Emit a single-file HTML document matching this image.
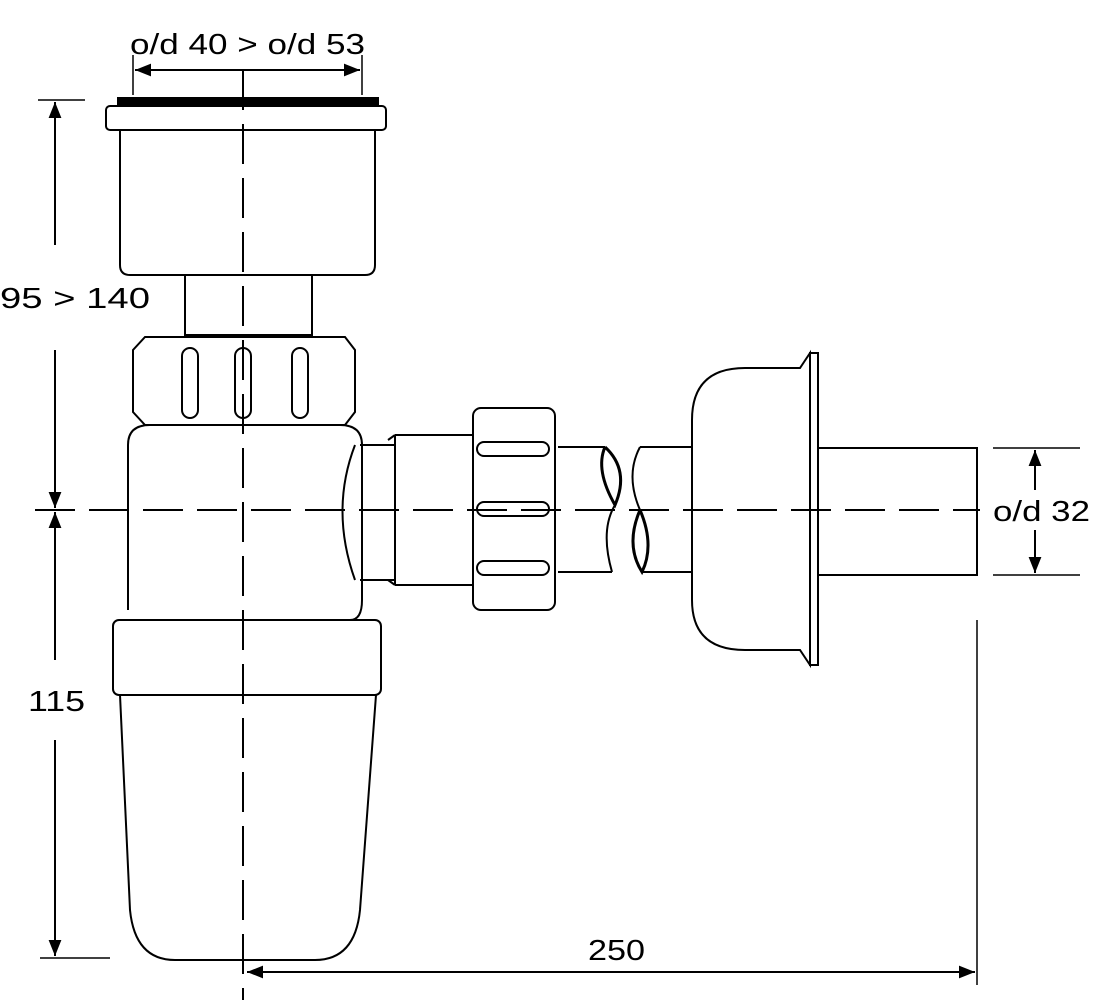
<!DOCTYPE html>
<html><head><style>body{margin:0;background:#fff}svg{display:block}</style></head><body>
<svg width="1107" height="1000" viewBox="0 0 1107 1000" xmlns="http://www.w3.org/2000/svg" font-family="Liberation Sans, sans-serif">
<defs><marker id="a" viewBox="0 0 10 10" refX="10" refY="5" markerWidth="10" markerHeight="8" orient="auto-start-reverse"><path d="M0,1 L10,5 L0,9z" fill="#000"/></marker></defs>
<g fill="none" stroke="#000" stroke-width="2">
<text x="130" y="54" font-size="29" textLength="235" lengthAdjust="spacingAndGlyphs" fill="#000" stroke="none">o/d 40 &gt; o/d 53</text>
<line x1="133" y1="55" x2="133" y2="95" stroke-width="1.5"/><line x1="362" y1="55" x2="362" y2="95" stroke-width="1.5"/>
<line x1="135" y1="70" x2="360" y2="70" marker-start="url(#a)" marker-end="url(#a)"/>
<rect x="118" y="98" width="260" height="8" fill="#000"/>
<rect x="106" y="106" width="280" height="24" rx="4"/>
<path d="M120,130 V265 Q120,275 130,275 H365 Q375,275 375,265 V130"/>
<rect x="185" y="275" width="127" height="60"/>
<path d="M145,337 H345 L355,350 V412 L345,425 H145 L133,412 V350 Z"/>
<rect x="182" y="348" width="16" height="70" rx="8"/><rect x="235" y="348" width="16" height="70" rx="8"/><rect x="292" y="348" width="16" height="70" rx="8"/>
<path d="M128,445 Q128,425 150,425 H340 Q362,425 362,445 V600 Q362,620 350,620 M128,445 V610"/>
<path d="M355,445 Q330,510 355,580 M360,445 H395 M360,580 H395"/>
<rect x="113" y="620" width="268" height="75" rx="6"/>
<path d="M120,695 L130,910 Q135,960 175,960 H315 Q355,960 360,910 L376,695"/>
<path d="M395,435 H473 M395,585 H473 M395,435 V585 M388,440 L395,435 M388,580 L395,585"/>
<rect x="473" y="408" width="82" height="202" rx="8"/>
<rect x="477" y="442" width="72" height="14" rx="7"/><rect x="477" y="502" width="72" height="14" rx="7"/><rect x="477" y="561" width="72" height="14" rx="7"/>
<path d="M558,447 H605 M558,572 H612"/>
<path d="M605,447 Q595,470 615,505 Q630,470 605,447" stroke-width="3"/>
<path d="M615,505 Q600,530 612,572"/>
<path d="M640,447 Q625,475 640,510"/>
<path d="M640,510 Q625,545 642,572 Q655,545 640,510" stroke-width="3"/>
<path d="M640,447 H692 M642,572 H692"/>
<path d="M692,420 Q692,368 745,368 H800 L810,353 V665 L800,650 H745 Q692,650 692,600 Z"/>
<rect x="810" y="353" width="8" height="312"/>
<path d="M818,448 H977 V575 H818"/>
<line x1="993" y1="448" x2="1080" y2="448" stroke-width="1.5"/><line x1="993" y1="575" x2="1080" y2="575" stroke-width="1.5"/>
<line x1="1035" y1="450" x2="1035" y2="490" marker-start="url(#a)"/><line x1="1035" y1="530" x2="1035" y2="573" marker-end="url(#a)"/>
<text x="993" y="521" font-size="29" textLength="97" lengthAdjust="spacingAndGlyphs" fill="#000" stroke="none">o/d 32</text>
<line x1="38" y1="100" x2="85" y2="100" stroke-width="1.5"/>
<line x1="40" y1="958" x2="110" y2="958" stroke-width="1.5"/>
<line x1="55" y1="102" x2="55" y2="245" marker-start="url(#a)"/><line x1="55" y1="350" x2="55" y2="508" marker-end="url(#a)"/>
<line x1="55" y1="512" x2="55" y2="660" marker-start="url(#a)"/><line x1="55" y1="740" x2="55" y2="956" marker-end="url(#a)"/>
<text x="0" y="308" font-size="29" textLength="150" lengthAdjust="spacingAndGlyphs" fill="#000" stroke="none">95 &gt; 140</text>
<text x="28" y="711" font-size="29" textLength="57" lengthAdjust="spacingAndGlyphs" fill="#000" stroke="none">115</text>
<line x1="977" y1="620" x2="977" y2="985" stroke-width="1.5"/>
<line x1="247" y1="972" x2="975" y2="972" marker-start="url(#a)" marker-end="url(#a)"/>
<text x="588" y="960" font-size="29" textLength="57" lengthAdjust="spacingAndGlyphs" fill="#000" stroke="none">250</text>
<line x1="243" y1="70" x2="243" y2="1000" stroke-dasharray="40,14"/>
<line x1="35" y1="510" x2="980" y2="510" stroke-dasharray="40,14"/>
</g>
</svg>
</body></html>
